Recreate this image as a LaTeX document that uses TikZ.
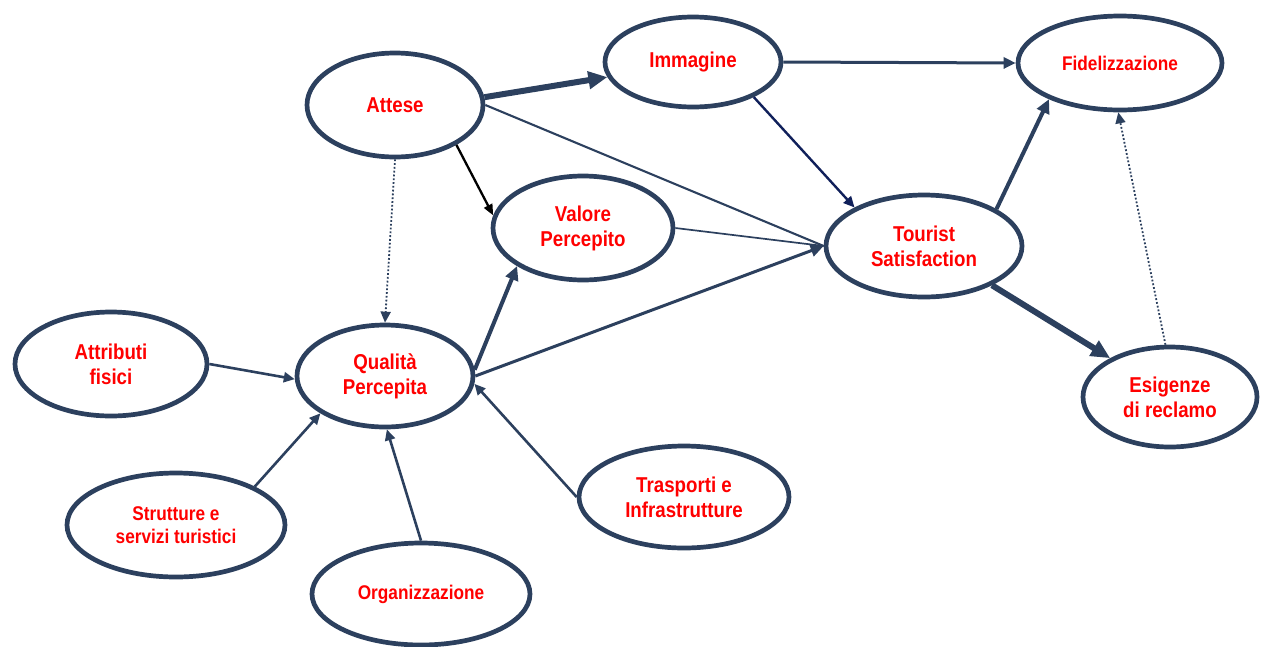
\documentclass[tikz,border=0pt]{standalone}
\usepackage{fontspec}
\setmainfont{Liberation Sans}
\newfontfamily\labf{Liberation Sans}[FakeStretch=0.87]
\usetikzlibrary{shapes.geometric,arrows.meta}
\definecolor{edgec}{RGB}{44,64,94}
\definecolor{navyc}{RGB}{16,32,90}
\definecolor{labc}{RGB}{255,0,0}
\tikzset{
  oval/.style={ellipse, draw=edgec, line width=4.7pt, fill=white, inner sep=0pt,
    text=labc, align=center, font=\labf\bfseries\fontsize{21.5}{25}\selectfont},
  smalloval/.style={oval, font=\labf\bfseries\fontsize{19.8}{22.5}\selectfont},
  conn/.style={draw=edgec, line width=2.6pt, -{Triangle[length=11pt,width=10pt]}},
  heavy/.style={draw=edgec, line width=6pt, -{Triangle[length=19pt,width=17pt]}},
  medium/.style={draw=edgec, line width=4pt, -{Triangle[length=14pt,width=13pt]}},
  plainline/.style={draw=edgec, line width=2.1pt},
  dotconn/.style={draw=edgec, line width=1.8pt, dotted, -{Triangle[length=11pt,width=10pt]}},
}
\begin{document}
\begin{tikzpicture}[x=1pt,y=-1pt]
\useasboundingbox (0,0) rectangle (1263,646);

\node[oval, minimum width=176pt, minimum height=104pt] (att) at (395,105) {Attese};
\node[oval, minimum width=176pt, minimum height=90pt] (img) at (693,62) {Immagine};
\node[smalloval, minimum width=204pt, minimum height=94pt] (fid) at (1120,63) {Fidelizzazione};
\node[oval, minimum width=180pt, minimum height=104pt] (val) at (583,228) {Valore\\Percepito};
\node[oval, minimum width=196pt, minimum height=102pt] (ts) at (924,246) {Tourist\\Satisfaction};
\node[oval, minimum width=174pt, minimum height=100pt] (esi) at (1170,397) {Esigenze\\di reclamo};
\node[oval, minimum width=192pt, minimum height=104pt] (af) at (111,364) {Attributi\\fisici};
\node[oval, minimum width=176pt, minimum height=102pt] (qp) at (385,376) {Qualità\\Percepita};
\node[smalloval, minimum width=218pt, minimum height=104pt] (st) at (176,525) {Strutture e\\servizi turistici};
\node[smalloval, minimum width=218pt, minimum height=102pt] (org) at (421,594) {Organizzazione};
\node[oval, minimum width=210pt, minimum height=102pt] (tr) at (684,497) {Trasporti e\\Infrastrutture};

% edges
\draw[heavy] (att.5) -- (img.190);
\draw[plainline] (att.east) -- (ts.west);
\draw[draw=black, line width=2.3pt, -{Triangle[length=11pt,width=9pt]}] (att.-33) -- (val.172);
\draw[dotconn] (att.south) -- (qp.north);
\draw[draw=edgec, line width=3pt, -{Triangle[length=12pt,width=11pt]}] (img.east) -- (fid.west);
\draw[draw=navyc, line width=2.4pt, -{Triangle[length=11pt,width=10pt]}] (img.-30) -- (ts.151);
\draw[draw=edgec, line width=1.7pt] (val.east) -- (ts.west);
\draw[draw=edgec, line width=3pt, -{Triangle[length=13pt,width=12pt]}] (qp.east) -- (ts.west);
\draw[medium] (qp.4) -- (val.210);
\draw[medium] (ts.27) -- (fid.207);
\draw[heavy] (ts.-30) -- (esi.147);
\draw[dotconn] (esi.95) -- (fid.268);
\draw[conn] (af.east) -- (qp.182);
\draw[conn] (st.26) -- (qp.210);
\draw[conn] (org.north) -- (qp.272);
\draw[conn] (tr.west) -- (qp.-5);
\end{tikzpicture}
\end{document}
